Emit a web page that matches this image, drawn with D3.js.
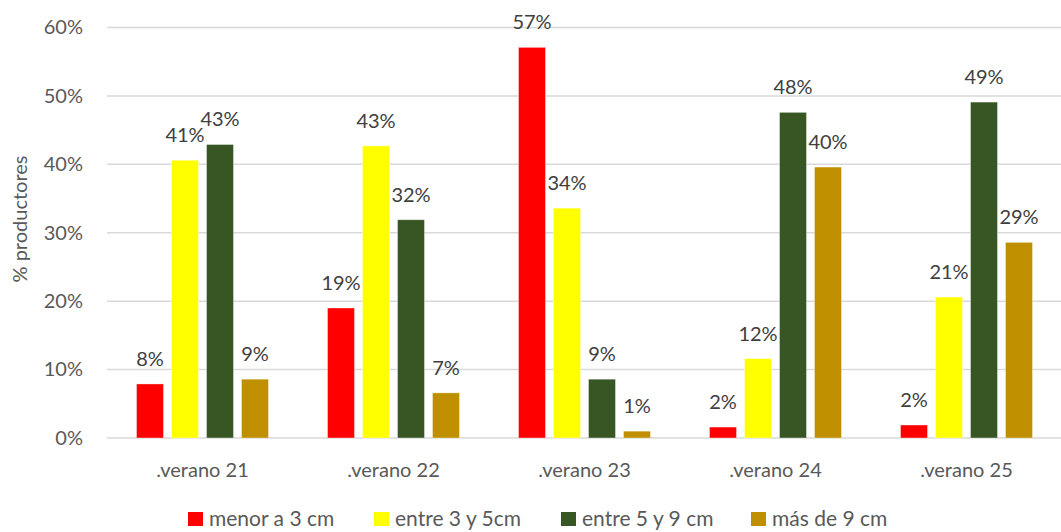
<!DOCTYPE html>
<html>
<head>
<meta charset="utf-8">
<script src="https://cdn.jsdelivr.net/npm/d3@7"></script>
<style>
  body { margin: 0; background: #fff; }
  svg { font-family: Lato, "Open Sans", sans-serif; }
</style>
</head>
<body>
<svg id="chart" width="1061" height="532"></svg>
<script>
var categories = [".verano 21", ".verano 22", ".verano 23", ".verano 24", ".verano 25"];
var series = ["menor a 3 cm", "entre 3 y 5cm", "entre 5 y 9 cm", "más de 9 cm"];
var colors = ["#ff0000", "#ffff00", "#375623", "#bf8f00"];
// one array per series, values in %
var menor3 = [7.9, 19.0, 57.1, 1.6, 1.9];
var entre3y5 = [40.6, 42.7, 33.6, 11.6, 20.6];
var entre5y9 = [42.9, 31.9, 8.6, 47.6, 49.1];
var mas9 = [8.6, 6.6, 1.0, 39.6, 28.6];
var yTicks = [0, 10, 20, 30, 40, 50, 60];

var values = [menor3, entre3y5, entre5y9, mas9];

var svg = d3.select("#chart");

var x = d3.scaleBand().domain(categories).range([107, 1062]);
var xSub = d3.scaleBand().domain(series).range([0, x.bandwidth()])
    .paddingInner(0.229).paddingOuter(0.843);
var y = d3.scaleLinear().domain([0, 60]).range([438, 27.5]);

// gridlines
svg.append("g")
  .selectAll("line")
  .data(yTicks)
  .join("line")
    .attr("x1", 107).attr("x2", 1061)
    .attr("y1", d => y(d)).attr("y2", d => y(d))
    .attr("stroke", "#d9d9d9")
    .attr("stroke-width", 1.5);

// y axis labels
var yAxis = svg.append("g")
    .attr("transform", "translate(83,0)")
    .call(d3.axisLeft(y).tickValues(yTicks).tickFormat(d => d + "%").tickSize(0).tickPadding(0));
yAxis.select(".domain").remove();
yAxis.selectAll("text")
    .style("font-size", "20px")
    .style("font-family", "Lato, sans-serif")
    .attr("fill", "#595959");

// x axis labels
var xAxis = svg.append("g")
    .attr("transform", "translate(0,438)")
    .call(d3.axisBottom(x).tickSize(0).tickPadding(25));
xAxis.select(".domain").remove();
xAxis.selectAll("text")
    .style("font-size", "20px")
    .style("font-family", "Lato, sans-serif")
    .attr("fill", "#595959");

// bars
var groups = svg.append("g")
  .selectAll("g")
  .data(series)
  .join("g")
    .attr("fill", (s, i) => colors[i]);

groups.selectAll("rect")
  .data((s, i) => values[i].map((v, j) => ({ s: s, c: categories[j], v: v })))
  .join("rect")
    .attr("x", d => x(d.c) + xSub(d.s))
    .attr("y", d => y(d.v))
    .attr("width", xSub.bandwidth())
    .attr("height", d => y(0) - y(d.v))
    .attr("stroke", "#ffffff")
    .attr("stroke-opacity", 0.5)
    .attr("stroke-width", 0.75);

// value labels
groups.selectAll("text")
  .data((s, i) => values[i].map((v, j) => ({ s: s, c: categories[j], v: v })))
  .join("text")
    .attr("x", d => x(d.c) + xSub(d.s) + xSub.bandwidth() / 2)
    .attr("y", d => y(d.v) - 18)
    .attr("text-anchor", "middle")
    .attr("fill", "#404040")
    .style("font-size", "20px")
    .text(d => Math.round(d.v) + "%");

// y axis title
svg.append("text")
    .attr("transform", "translate(27,219) rotate(-90)")
    .attr("text-anchor", "middle")
    .attr("fill", "#595959")
    .style("font-size", "20px")
    .text("% productores");

// legend
var legendX = [188, 374, 561, 751];
var legend = svg.append("g")
  .selectAll("g")
  .data(series)
  .join("g")
    .attr("transform", (d, i) => "translate(" + legendX[i] + ",512)");
legend.append("rect")
    .attr("width", 15).attr("height", 14)
    .attr("fill", (d, i) => colors[i]);
legend.append("text")
    .attr("x", 21).attr("y", 14)
    .attr("fill", "#595959")
    .style("font-size", "21px")
    .text(d => d);
</script>
</body>
</html>
